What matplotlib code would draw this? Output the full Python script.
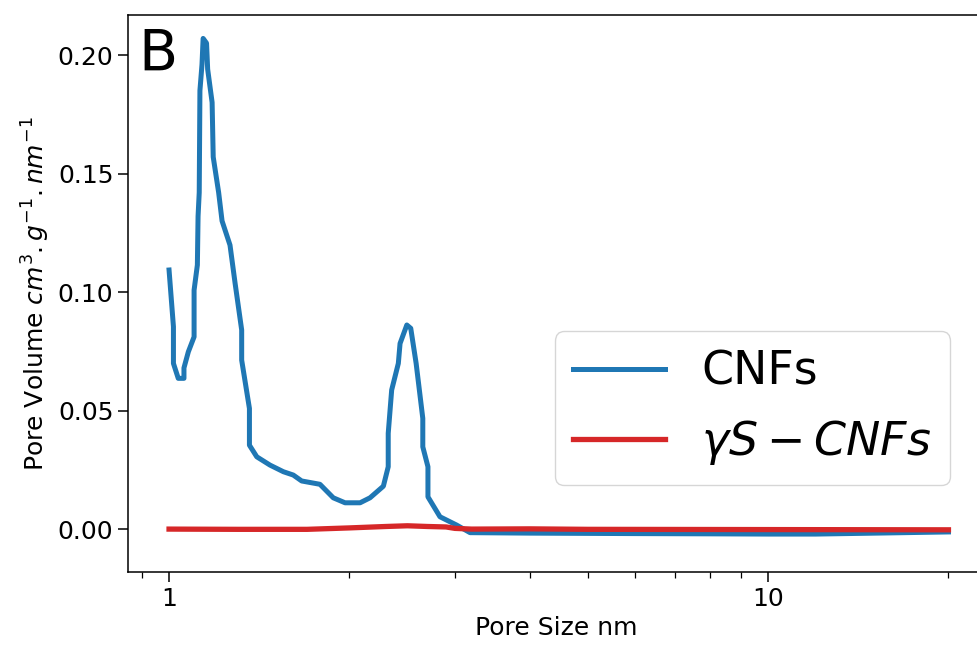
import numpy as np
import matplotlib
matplotlib.use("Agg")
import matplotlib.pyplot as plt
from matplotlib.ticker import FuncFormatter, NullFormatter

# pore size distribution
cnf_size = [1.0, 1.017, 1.017, 1.036, 1.059, 1.059, 1.077, 1.101, 1.101, 1.115,
            1.118, 1.123, 1.126, 1.135, 1.14, 1.155, 1.16, 1.18, 1.185, 1.21,
            1.226, 1.264, 1.289, 1.322, 1.322, 1.362, 1.362, 1.401, 1.474, 1.552,
            1.612, 1.665, 1.786, 1.88, 1.967, 2.084, 2.165, 2.279, 2.322, 2.322,
            2.353, 2.414, 2.43, 2.494, 2.532, 2.585, 2.652, 2.652, 2.705, 2.705,
            2.833, 3.02, 3.18, 4.0, 6.0, 8.0, 10.0, 12.0, 16.0, 20.0]
cnf_vol = [0.1093, 0.0854, 0.0699, 0.0636, 0.0636, 0.068, 0.0748, 0.0811, 0.1008, 0.1114,
           0.132, 0.142, 0.185, 0.196, 0.207, 0.205, 0.194, 0.18, 0.157, 0.142,
           0.13, 0.1198, 0.1037, 0.084, 0.0713, 0.0509, 0.0354, 0.0305, 0.027, 0.0242,
           0.0228, 0.0203, 0.0189, 0.0132, 0.0111, 0.0111, 0.0132, 0.0181, 0.0263, 0.0404,
           0.0587, 0.0699, 0.0783, 0.0861, 0.0847, 0.0699, 0.0467, 0.0347, 0.0263, 0.0136,
           0.0052, 0.0017, -0.0015, -0.0017, -0.0019, -0.002, -0.0021, -0.0021, -0.0016, -0.0012]

gs_size = [1.0, 1.3, 1.7, 2.0, 2.3, 2.5, 2.7, 2.9, 3.0, 3.2, 4.0, 5.0, 10.0, 20.0]
gs_vol = [0.0, -0.0001, -0.0001, 0.0005, 0.0011, 0.0014, 0.0011, 0.0009, 0.0003, 0.0,
          0.0001, -0.0001, -0.0002, -0.0003]

fig = plt.figure(figsize=(9.77, 6.5), dpi=100)
ax = fig.add_axes([0.131, 0.12, 0.877, 0.857])

ax.plot(cnf_size, cnf_vol, color='#1f77b4', lw=3.6, label='CNFs')
ax.plot(gs_size, gs_vol, color='#d62728', lw=3.8, label=r'$\gamma S-CNFs$')

ax.set_xscale('log')
ax.set_xlim(0.854, 23.0)
ax.set_ylim(-0.0181, 0.2169)
ax.xaxis.set_major_formatter(FuncFormatter(lambda v, p: '%g' % v))
ax.xaxis.set_minor_formatter(NullFormatter())
ax.set_yticks([0.0, 0.05, 0.10, 0.15, 0.20])
ax.set_yticklabels(['0.00', '0.05', '0.10', '0.15', '0.20'])

ax.tick_params(which='major', labelsize=18, length=7, width=1.1)
ax.tick_params(which='minor', length=4, width=0.9)
for s in ax.spines.values():
    s.set_linewidth(1.1)

ax.set_xlabel('Pore Size nm', fontsize=18)
ax.set_ylabel(r'Pore Volume $cm^3.g^{-1}.nm^{-1}$', fontsize=18)

ax.text(0.012, 0.977, 'B', transform=ax.transAxes, va='top', ha='left', fontsize=41)

ax.legend(loc='lower right', bbox_to_anchor=(950 / 977, 1 - 485 / 650),
          bbox_transform=fig.transFigure, borderaxespad=0, fontsize=33)

fig.savefig('out.png', dpi=100)
